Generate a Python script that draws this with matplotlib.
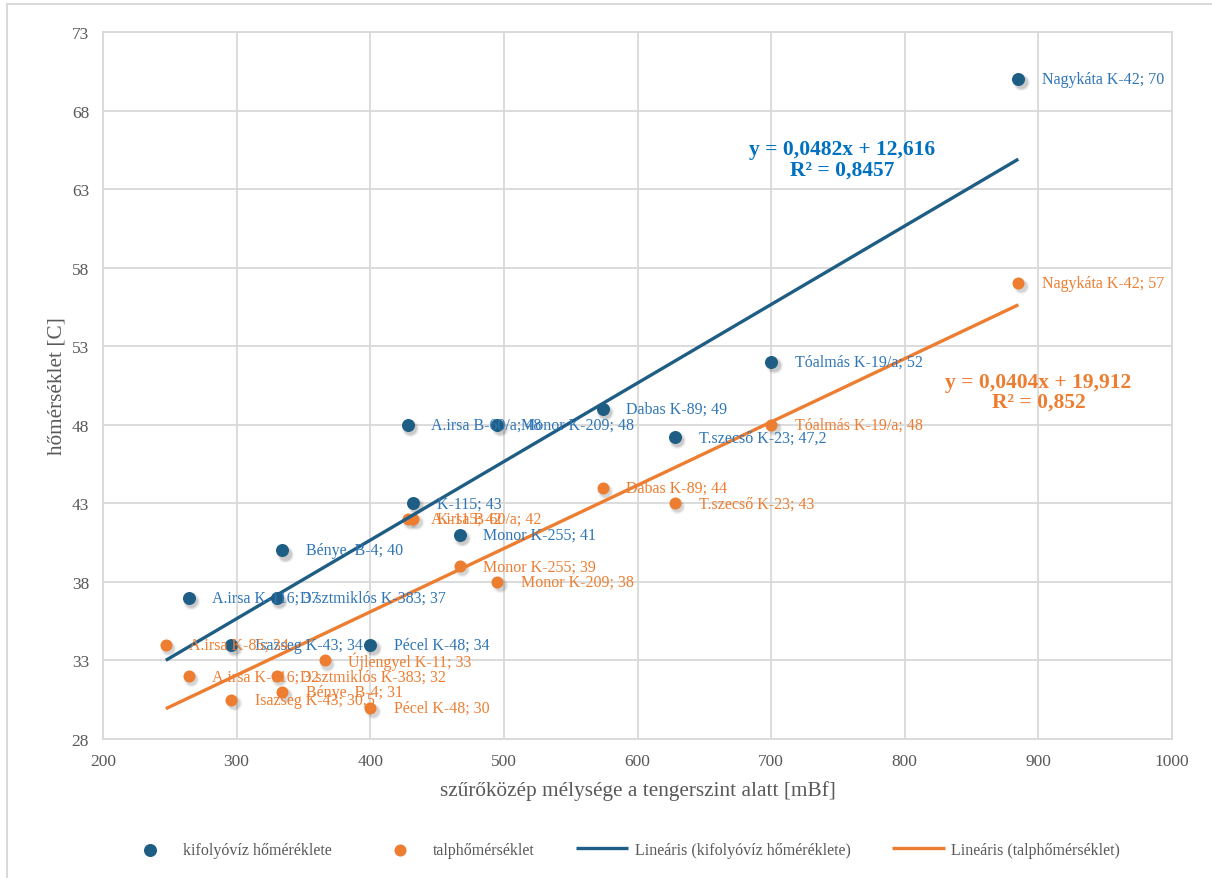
import matplotlib.pyplot as plt
import matplotlib.transforms as mtransforms
import numpy as np

plt.rcParams['font.family'] = ['Liberation Serif', 'DejaVu Serif']

# kifolyóvíz hőmérséklete (blue series)
kif_nev = ['Nagykáta K-42', 'Tóalmás K-19/a', 'T.szecső K-23', 'Dabas K-89', 'Monor K-209',
           'A.irsa B-60/a', 'K-115', 'Monor K-255', 'Bénye  B-4', 'A.irsa K-116',
           'D.sztmiklós K-383', 'Isazseg K-43', 'Pécel K-48']
kif_x = [885, 700, 628, 574, 495, 428, 432, 467, 334, 264, 330, 296, 400]
kif_y = [70, 52, 47.2, 49, 48, 48, 43, 41, 40, 37, 37, 34, 34]

# talphőmérséklet (orange series)
talp_nev = ['Nagykáta K-42', 'Tóalmás K-19/a', 'T.szecső K-23', 'Dabas K-89', 'Monor K-209',
            'A.irsa B-60/a', 'K-115', 'Monor K-255', 'Bénye  B-4', 'A.irsa K-116',
            'D.sztmiklós K-383', 'A.irsa K-85', 'Isazseg K-43', 'Pécel K-48', 'Újlengyel K-11']
talp_x = [885, 700, 628, 574, 495, 428, 432, 467, 334, 264, 330, 247, 296, 400, 366]
talp_y = [57, 48, 43, 44, 38, 42, 42, 39, 31, 32, 32, 34, 30.5, 30, 33]

egyenlet_kif = 'y = 0,0482x + 12,616\nR² = 0,8457'
egyenlet_talp = 'y = 0,0404x + 19,912\nR² = 0,852'

kek = '#1F5E84'
kek_szoveg = '#2E75B6'
narancs = '#ED7D31'
szurke = '#595959'


def ertek(v):
    s = ('%g' % v).replace('.', ',')
    return s


fig = plt.figure(figsize=(12.12, 8.79), dpi=100)
ax = fig.add_axes([103 / 1212, 1 - 740 / 879, (1172 - 103) / 1212, (740 - 33) / 879])

# soft shadows for markers (a few stacked, faint layers)
arnyek = mtransforms.offset_copy(ax.transData, fig=fig, x=1.8, y=-2.2, units='points')
for meret, alfa in [(150, 0.05), (115, 0.07), (85, 0.1)]:
    ax.scatter(kif_x, kif_y, s=meret, color='#000000', alpha=alfa, linewidths=0, transform=arnyek, zorder=2)
    ax.scatter(talp_x, talp_y, s=meret * 0.85, color='#000000', alpha=alfa * 0.8, linewidths=0,
               transform=arnyek, zorder=2)

ax.scatter(kif_x, kif_y, s=88, color=kek, linewidths=0, zorder=3, label='kifolyóvíz hőméréklete')
ax.scatter(talp_x, talp_y, s=75, color=narancs, linewidths=0, zorder=3, label='talphőmérséklet')

# linear trend lines
xmin = min(min(kif_x), min(talp_x))
xx = np.array([xmin, max(kif_x)])
p1 = np.polyfit(kif_x, kif_y, 1)
p2 = np.polyfit(talp_x, talp_y, 1)
ax.plot(xx, np.polyval(p1, xx), color=kek, lw=2.4, zorder=4, solid_capstyle='butt',
        label='Lineáris (kifolyóvíz hőméréklete)')
ax.plot(xx, np.polyval(p2, xx), color=narancs, lw=2.4, zorder=4, solid_capstyle='butt',
        label='Lineáris (talphőmérséklet)')

# data labels
for n, x, y in zip(kif_nev, kif_x, kif_y):
    ax.annotate(n + '; ' + ertek(y), (x, y), xytext=(17, 0), textcoords='offset points',
                va='center', ha='left', fontsize=11.5, color=kek_szoveg, zorder=5)
for n, x, y in zip(talp_nev, talp_x, talp_y):
    ax.annotate(n + '; ' + ertek(y), (x, y), xytext=(17, 0), textcoords='offset points',
                va='center', ha='left', fontsize=11.5, color=narancs, zorder=5)

ax.text(753, 64.9, egyenlet_kif, ha='center', va='center', fontsize=15.5, fontweight='bold',
        color='#0070C0', linespacing=1.0, zorder=6)
ax.text(900, 50.1, egyenlet_talp, ha='center', va='center', fontsize=15.5, fontweight='bold',
        color=narancs, linespacing=1.0, zorder=6)

ax.set_xlim(200, 1000)
ax.set_ylim(28, 73)
ax.set_xticks(np.arange(200, 1001, 100))
ax.set_yticks(np.arange(28, 74, 5))
ax.grid(True, color='#D9D9D9', lw=1.3)
ax.set_axisbelow(True)
for s in ax.spines.values():
    s.set_color('#D9D9D9')
    s.set_linewidth(1.3)
ax.tick_params(length=0, labelsize=12.5, labelcolor=szurke, pad=10)

ax.set_xlabel('szűrőközép mélysége a tengerszint alatt [mBf]', fontsize=15.3, color=szurke, labelpad=8)
ax.set_ylabel('hőmérséklet [C]', fontsize=15.3, color=szurke, labelpad=4)

fig.legend(loc='center', bbox_to_anchor=(622 / 1212, 1 - 851 / 879), ncol=4, frameon=False,
           fontsize=11.5, labelcolor=szurke, columnspacing=2.6, handlelength=3.3, handletextpad=0.4)

# outer chart border
fig.patches.append(plt.Rectangle((7 / 1212, -0.05), 1.1, 1 - 5 / 879 + 0.05, transform=fig.transFigure,
                                 fill=False, edgecolor='#D9D9D9', lw=1.5))

plt.savefig('out.png', dpi=100)
